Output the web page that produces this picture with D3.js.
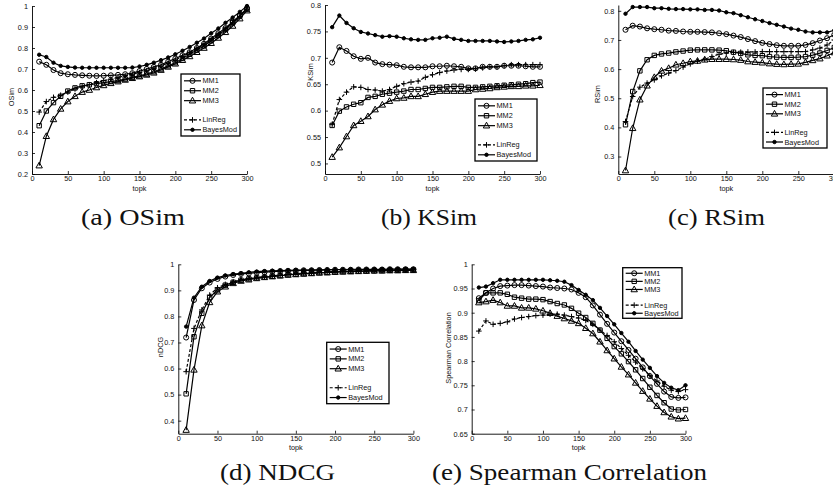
<!DOCTYPE html>
<html>
<head>
<meta charset="utf-8">
<script src="https://cdn.jsdelivr.net/npm/d3@7"></script>
<style>
  body { margin: 0; background: #fff; }
  svg { display: block; }
  .tick text, .lab, .leg text { font-family: 'Liberation Sans', Arial, sans-serif; fill: #111; }
  .cap { font-family: 'Liberation Serif', 'DejaVu Serif', serif; fill: #111; }
</style>
</head>
<body>
<div id="chart"></div>
<script>
// ---------- data ----------
const topk = [10, 20, 30, 40, 50, 60, 70, 80, 90, 100, 110, 120, 130, 140, 150,
              160, 170, 180, 190, 200, 210, 220, 230, 240, 250, 260, 270, 280, 290, 300];
const seriesNames = ['MM1', 'MM2', 'MM3', 'LinReg', 'BayesMod'];
const xTicks = [0, 50, 100, 150, 200, 250, 300];

// (a) OSim
const osimMM1 = [0.735,0.72,0.695,0.68,0.675,0.672,0.67,0.668,0.667,0.668,0.67,0.672,0.675,0.68,0.69,0.70,0.71,0.72,0.735,0.75,0.765,0.78,0.80,0.82,0.845,0.87,0.895,0.925,0.955,0.99];
const osimMM2 = [0.43,0.50,0.54,0.57,0.595,0.61,0.62,0.625,0.63,0.635,0.64,0.645,0.652,0.66,0.667,0.676,0.687,0.70,0.715,0.73,0.75,0.77,0.79,0.81,0.835,0.86,0.888,0.92,0.952,0.985];
const osimMM3 = [0.24,0.38,0.46,0.51,0.545,0.57,0.59,0.60,0.612,0.622,0.632,0.64,0.648,0.656,0.664,0.672,0.682,0.695,0.71,0.725,0.742,0.76,0.78,0.80,0.823,0.848,0.875,0.905,0.94,0.978];
const osimLinReg = [0.495,0.545,0.565,0.575,0.59,0.605,0.615,0.625,0.635,0.645,0.652,0.66,0.668,0.675,0.683,0.692,0.703,0.715,0.728,0.743,0.76,0.777,0.797,0.817,0.84,0.865,0.89,0.92,0.95,0.985];
const osimBayes = [0.768,0.757,0.73,0.715,0.71,0.707,0.706,0.706,0.706,0.706,0.706,0.706,0.706,0.707,0.712,0.72,0.73,0.742,0.755,0.77,0.787,0.805,0.825,0.845,0.87,0.893,0.92,0.945,0.972,1.0];
const osimTicks = [0.2, 0.3, 0.4, 0.5, 0.6, 0.7, 0.8, 0.9, 1];

// (b) KSim
const ksimMM1 = [0.691,0.72,0.713,0.703,0.698,0.70,0.691,0.688,0.687,0.686,0.683,0.682,0.682,0.682,0.684,0.684,0.685,0.684,0.683,0.68,0.68,0.683,0.683,0.683,0.685,0.685,0.685,0.684,0.683,0.683];
const ksimMM2 = [0.572,0.599,0.607,0.612,0.615,0.625,0.627,0.631,0.633,0.635,0.637,0.64,0.64,0.642,0.644,0.644,0.645,0.646,0.646,0.644,0.644,0.645,0.646,0.647,0.648,0.649,0.65,0.651,0.653,0.654];
const ksimMM3 = [0.512,0.53,0.551,0.572,0.58,0.589,0.602,0.611,0.618,0.623,0.624,0.627,0.627,0.631,0.635,0.637,0.637,0.637,0.637,0.637,0.64,0.641,0.642,0.644,0.645,0.646,0.646,0.647,0.647,0.648];
const ksimLinReg = [0.574,0.621,0.635,0.645,0.644,0.64,0.639,0.637,0.64,0.646,0.651,0.654,0.656,0.663,0.668,0.672,0.675,0.677,0.678,0.678,0.679,0.681,0.683,0.683,0.685,0.687,0.687,0.687,0.687,0.687];
const ksimBayes = [0.758,0.78,0.766,0.756,0.749,0.746,0.743,0.74,0.741,0.74,0.737,0.735,0.734,0.734,0.737,0.738,0.74,0.736,0.734,0.732,0.732,0.732,0.732,0.731,0.73,0.731,0.732,0.734,0.735,0.738];
const ksimTicks = [0.5, 0.55, 0.6, 0.65, 0.7, 0.75, 0.8];

// (c) RSim
const rsimMM1 = [0.735,0.749,0.746,0.74,0.737,0.735,0.732,0.731,0.729,0.728,0.728,0.727,0.726,0.723,0.72,0.715,0.71,0.703,0.696,0.69,0.686,0.682,0.68,0.68,0.68,0.683,0.689,0.698,0.706,0.718];
const rsimMM2 = [0.409,0.523,0.594,0.632,0.647,0.652,0.655,0.659,0.662,0.665,0.666,0.666,0.666,0.665,0.663,0.658,0.654,0.649,0.647,0.646,0.643,0.641,0.64,0.64,0.641,0.643,0.648,0.655,0.664,0.674];
const rsimMM3 = [0.252,0.397,0.495,0.543,0.572,0.594,0.603,0.615,0.62,0.626,0.628,0.632,0.634,0.634,0.634,0.633,0.631,0.626,0.624,0.622,0.619,0.617,0.616,0.617,0.618,0.623,0.63,0.636,0.646,0.657];
const rsimLinReg = [0.42,0.506,0.538,0.552,0.563,0.577,0.586,0.595,0.607,0.618,0.627,0.634,0.643,0.651,0.655,0.657,0.658,0.659,0.659,0.66,0.66,0.66,0.66,0.66,0.66,0.66,0.666,0.672,0.683,0.70];
const rsimBayes = [0.79,0.813,0.813,0.813,0.809,0.809,0.807,0.806,0.806,0.805,0.805,0.803,0.803,0.801,0.795,0.792,0.785,0.778,0.771,0.765,0.758,0.752,0.746,0.739,0.735,0.729,0.726,0.726,0.726,0.733];
const rsimTicks = [0.3, 0.4, 0.5, 0.6, 0.7, 0.8];

// (d) NDCG
const ndcgMM1 = [0.719,0.863,0.908,0.93,0.944,0.953,0.959,0.963,0.965,0.968,0.97,0.972,0.974,0.975,0.976,0.977,0.977,0.978,0.978,0.979,0.979,0.979,0.98,0.98,0.98,0.98,0.981,0.981,0.981,0.981];
const ndcgMM2 = [0.503,0.722,0.812,0.872,0.902,0.92,0.931,0.939,0.944,0.948,0.951,0.954,0.957,0.96,0.962,0.964,0.966,0.968,0.969,0.971,0.972,0.973,0.974,0.975,0.975,0.976,0.977,0.977,0.978,0.978];
const ndcgMM3 = [0.364,0.595,0.765,0.854,0.895,0.914,0.927,0.936,0.941,0.946,0.95,0.953,0.956,0.959,0.961,0.963,0.965,0.967,0.968,0.97,0.971,0.972,0.973,0.974,0.975,0.975,0.976,0.976,0.977,0.977];
const ndcgLinReg = [0.588,0.754,0.825,0.882,0.91,0.923,0.933,0.941,0.946,0.95,0.953,0.956,0.959,0.962,0.964,0.966,0.968,0.97,0.971,0.972,0.973,0.974,0.975,0.976,0.976,0.977,0.977,0.978,0.978,0.979];
const ndcgBayes = [0.761,0.872,0.914,0.936,0.949,0.957,0.962,0.965,0.969,0.972,0.974,0.975,0.976,0.977,0.978,0.978,0.979,0.979,0.98,0.98,0.98,0.981,0.981,0.981,0.981,0.981,0.982,0.982,0.982,0.982];
const ndcgTicks = [0.4, 0.5, 0.6, 0.7, 0.8, 0.9, 1];

// (e) Spearman Correlation
const spearMM1 = [0.93,0.941,0.95,0.955,0.956,0.957,0.957,0.956,0.955,0.954,0.952,0.951,0.95,0.948,0.941,0.932,0.915,0.896,0.877,0.859,0.841,0.823,0.805,0.787,0.769,0.753,0.737,0.726,0.724,0.725];
const spearMM2 = [0.925,0.941,0.941,0.941,0.938,0.932,0.93,0.928,0.928,0.927,0.923,0.919,0.916,0.909,0.899,0.89,0.878,0.864,0.847,0.83,0.815,0.799,0.782,0.764,0.746,0.729,0.714,0.701,0.699,0.70];
const spearMM3 = [0.921,0.923,0.926,0.921,0.914,0.914,0.91,0.91,0.908,0.904,0.899,0.893,0.888,0.883,0.878,0.868,0.857,0.84,0.822,0.805,0.788,0.772,0.755,0.738,0.722,0.707,0.694,0.685,0.681,0.682];
const spearLinReg = [0.862,0.883,0.876,0.878,0.881,0.887,0.89,0.892,0.894,0.895,0.897,0.897,0.895,0.892,0.889,0.884,0.876,0.864,0.853,0.84,0.826,0.812,0.798,0.784,0.77,0.759,0.748,0.74,0.737,0.741];
const spearBayes = [0.952,0.954,0.961,0.968,0.968,0.968,0.968,0.968,0.968,0.968,0.967,0.966,0.964,0.957,0.947,0.937,0.926,0.91,0.893,0.876,0.858,0.84,0.821,0.803,0.786,0.769,0.755,0.745,0.74,0.75];
const spearTicks = [0.65, 0.7, 0.75, 0.8, 0.85, 0.9, 0.95, 1];

// ---------- drawing ----------
const W = 833, H = 498;
const svg = d3.select('#chart').append('svg').attr('width', W).attr('height', H);

const markers = {
  MM1: d3.symbol(d3.symbolCircle, 20)(),
  MM2: 'M-2.2,-2.2h4.4v4.4h-4.4z',
  MM3: 'M0,-3.4L3.2,2.3L-3.2,2.3Z',
  LinReg: 'M-2.8,0H2.8M0,-2.8V2.8',
  BayesMod: d3.symbol(d3.symbolCircle, 9)()
};

function drawMarker(sel, name) {
  sel.append('path')
    .attr('d', markers[name])
    .attr('fill', name === 'BayesMod' ? '#000' : 'none')
    .attr('stroke', '#000')
    .attr('stroke-width', 1);
}

function drawPanel(p) {
  const x = d3.scaleLinear().domain([0, 300]).range([p.x0, p.x1]);
  const y = d3.scaleLinear().domain(p.yDomain).range([p.y1, p.y0]);
  const g = svg.append('g');

  // axes, ticks pointing in like matlab
  const xa = g.append('g').attr('transform', `translate(0,${p.y1})`)
    .call(d3.axisBottom(x).tickValues(xTicks).tickSizeInner(-3).tickSizeOuter(0).tickPadding(2).tickFormat(d3.format('d')));
  const ya = g.append('g').attr('transform', `translate(${p.x0},0)`)
    .call(d3.axisLeft(y).tickValues(p.yTicks).tickSizeInner(-3).tickSizeOuter(0).tickPadding(4).tickFormat(d => String(+d.toFixed(2))));
  [xa, ya].forEach(a => {
    a.select('.domain').attr('stroke', '#000').attr('stroke-width', 0.9);
    a.selectAll('.tick line').attr('stroke', '#000').attr('stroke-width', 0.8);
    a.selectAll('.tick text').attr('font-size', 7.3);
  });

  g.append('text').attr('class', 'lab')
    .attr('x', (p.x0 + p.x1) / 2).attr('y', p.y1 + 16.5)
    .attr('text-anchor', 'middle').attr('font-size', 7.3).text('topk');
  g.append('text').attr('class', 'lab')
    .attr('transform', `translate(${p.ylabX},${p.ylabY}) rotate(-90)`)
    .attr('text-anchor', 'middle').attr('font-size', 7.3).text(p.ylabel);

  const line = d3.line().x((d, i) => x(topk[i])).y(d => y(d));
  p.series.forEach((vals, k) => {
    const name = seriesNames[k];
    g.append('path').datum(vals)
      .attr('d', line)
      .attr('fill', 'none')
      .attr('stroke', '#000')
      .attr('stroke-width', 1.2)
      .attr('stroke-dasharray', name === 'LinReg' ? '3,2' : null);
    g.append('g').selectAll('g').data(vals).enter().append('g')
      .attr('transform', (d, i) => `translate(${x(topk[i])},${y(d)})`)
      .each(function () { drawMarker(d3.select(this), name); });
  });

  // legend
  const L = p.legend;
  const lg = g.append('g').attr('class', 'leg').attr('transform', `translate(${L.x},${L.y})`);
  lg.append('rect').attr('width', L.w).attr('height', L.h)
    .attr('fill', '#fff').attr('stroke', '#000').attr('stroke-width', 1.3);
  const rowFrac = [0.11, 0.27, 0.43, 0.74, 0.9];
  seriesNames.forEach((name, k) => {
    const ry = L.h * rowFrac[k];
    lg.append('line').attr('x1', 3).attr('x2', 20).attr('y1', ry).attr('y2', ry)
      .attr('stroke', '#000').attr('stroke-width', 1.2)
      .attr('stroke-dasharray', name === 'LinReg' ? '3,2' : null);
    drawMarker(lg.append('g').attr('transform', `translate(11.5,${ry})`), name);
    lg.append('text').attr('x', 21.5).attr('y', ry).attr('dy', '0.35em')
      .attr('font-size', 7.3).text(name);
  });

  // caption
  svg.append('text').attr('class', 'cap')
    .attr('x', p.cap.x).attr('y', p.cap.y)
    .attr('font-size', 23)
    .attr('textLength', p.cap.w).attr('lengthAdjust', 'spacingAndGlyphs')
    .text(p.cap.text);
}

const panels = [
  { x0: 32, x1: 247, y0: 6, y1: 174, yDomain: [0.2, 1], yTicks: osimTicks, ylabel: 'OSim', ylabX: 14, ylabY: 97,
    series: [osimMM1, osimMM2, osimMM3, osimLinReg, osimBayes],
    legend: { x: 181, y: 74, w: 59, h: 62 },
    cap: { text: '(a) OSim', x: 81, y: 225, w: 104 } },
  { x0: 325, x1: 540, y0: 5, y1: 174, yDomain: [0.48, 0.8], yTicks: ksimTicks, ylabel: 'KSim', ylabX: 313, ylabY: 72,
    series: [ksimMM1, ksimMM2, ksimMM3, ksimLinReg, ksimBayes],
    legend: { x: 475, y: 99, w: 62, h: 62 },
    cap: { text: '(b) KSim', x: 381, y: 225, w: 96 } },
  { x0: 618.3, x1: 834.3, y0: 5, y1: 174, yDomain: [0.24, 0.82], yTicks: rsimTicks, ylabel: 'RSim', ylabX: 600, ylabY: 94,
    series: [rsimMM1, rsimMM2, rsimMM3, rsimLinReg, rsimBayes],
    legend: { x: 763, y: 88, w: 64, h: 60 },
    cap: { text: '(c) RSim', x: 668, y: 225, w: 97 } },
  { x0: 178.3, x1: 413.4, y0: 264.3, y1: 433.7, yDomain: [0.35, 1], yTicks: ndcgTicks, ylabel: 'nDCG', ylabX: 163, ylabY: 347,
    series: [ndcgMM1, ndcgMM2, ndcgMM3, ndcgLinReg, ndcgBayes],
    legend: { x: 326.7, y: 342.3, w: 62.3, h: 61.4 },
    cap: { text: '(d) NDCG', x: 220, y: 480, w: 115 } },
  { x0: 471.7, x1: 685.5, y0: 264.3, y1: 433.7, yDomain: [0.65, 1], yTicks: spearTicks, ylabel: 'Spearman Correlation', ylabX: 451, ylabY: 348,
    series: [spearMM1, spearMM2, spearMM3, spearLinReg, spearBayes],
    legend: { x: 622.7, y: 267.7, w: 59.3, h: 50.6 },
    cap: { text: '(e) Spearman Correlation', x: 432, y: 480, w: 275 } }
];

panels.forEach(drawPanel);
</script>
</body>
</html>
